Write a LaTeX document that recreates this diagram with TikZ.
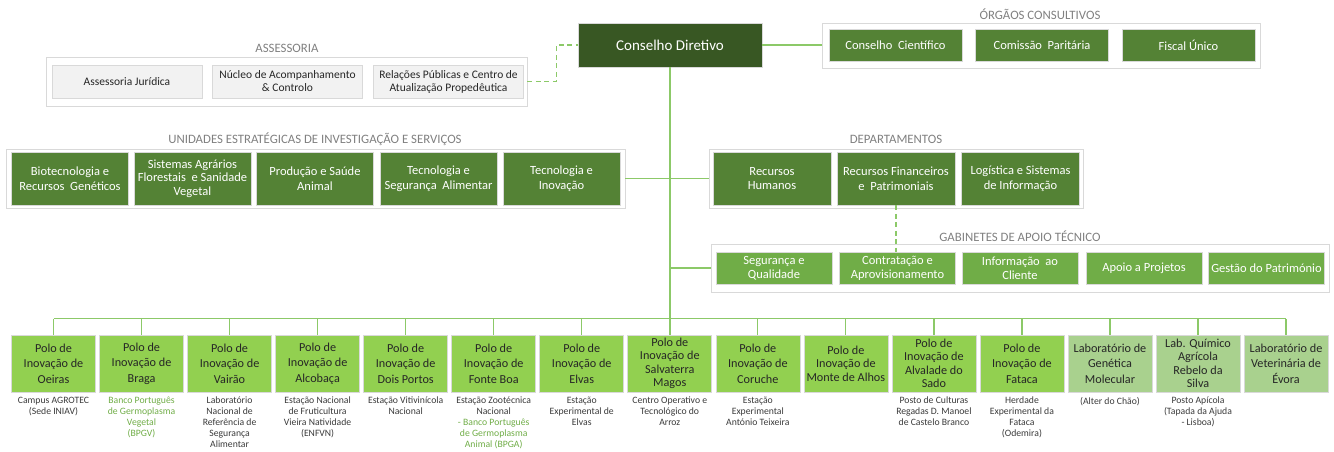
\documentclass[tikz,border=0pt]{standalone}
\usepackage{fontspec}
\setmainfont{Carlito}
\usepackage{tikz}
\definecolor{darkgreen}{HTML}{385723}
\definecolor{midgreen}{HTML}{548235}
\definecolor{gabgreen}{HTML}{70AD47}
\definecolor{pologreen}{HTML}{92D050}
\definecolor{labgreen}{HTML}{A9D18E}
\definecolor{linegreen}{HTML}{8CC968}
\definecolor{framegray}{HTML}{D9D9D9}
\definecolor{boxgray}{HTML}{F2F2F2}
\definecolor{labelgray}{HTML}{808080}
\definecolor{textdark}{HTML}{262626}
\definecolor{textgray}{HTML}{3A3A3A}
\definecolor{descgreen}{HTML}{70AD47}

\begin{document}
\begin{tikzpicture}[x=1pt,y=-1pt,line cap=butt,
  frame/.style={draw=framegray,fill=white,line width=0.8pt,inner sep=0pt},
  grplabel/.style={text=labelgray,font=\fontsize{12.8}{14}\selectfont,inner sep=0pt},
  greybox/.style={draw=framegray,fill=boxgray,text=textdark,font=\fontsize{11.5}{13}\selectfont,align=center,minimum width=150pt,minimum height=33pt,inner sep=0pt},
  topbox/.style={draw=framegray,line width=0.6pt,fill=midgreen,text=white,font=\fontsize{12.5}{14}\selectfont,align=center,minimum width=133pt,minimum height=32pt,inner sep=0pt},
  unitbox/.style={topbox,minimum width=117pt,minimum height=53pt,font=\fontsize{12.5}{14.5}\selectfont},
  gabbox/.style={topbox,fill=gabgreen,minimum width=116pt},
  polo/.style={draw=framegray,line width=0.6pt,text=textdark,font=\fontsize{12.2}{15.5}\selectfont,align=center,minimum width=84pt,minimum height=57pt,inner sep=0pt},
  plain/.style={},
  tight/.style={font=\fontsize{12.2}{13.4}\selectfont},
  desc/.style={anchor=north,align=center,font=\fontsize{9.7}{11}\selectfont,inner sep=0pt},
  conn/.style={draw=linegreen,line width=1.2pt},
  dashconn/.style={conn,dash pattern=on 5pt off 3.5pt}]
\useasboundingbox (0,0) rectangle (1334,451);

\node[frame,minimum width=481pt,minimum height=49pt] (ass) at (286.5,81.5) {};
\node[grplabel] at (287,48) {ASSESSORIA};
\node[greybox] (aj) at (127,81.5) {Assessoria Jurídica};
\node[greybox] (nac) at (287.5,81.5) {Núcleo de Acompanhamento\\\& Controlo};
\node[greybox] (rp) at (448.5,81.5) {Relações Públicas e Centro de\\Atualização Propedêutica};

\node[topbox,fill=darkgreen,minimum width=184pt,minimum height=44pt,font=\fontsize{15}{17}\selectfont] (cd) at (670,45) {Conselho Diretivo};

\node[frame,minimum width=438pt,minimum height=45pt] (org) at (1041,45.5) {};
\node[grplabel] at (1040,14) {ÓRGÃOS CONSULTIVOS};
\node[topbox] (cc) at (895.5,45) {Conselho\ \ Científico};
\node[topbox] (cp) at (1042,45) {Comissão\ \ Paritária};
\node[topbox] (fu) at (1188.5,45) {Fiscal Único};

\node[frame,minimum width=619pt,minimum height=59pt] (usis) at (315.5,178.5) {};
\node[grplabel] at (315,139) {UNIDADES ESTRATÉGICAS DE INVESTIGAÇÃO E SERVIÇOS};
\node[unitbox] (brg) at (70,178.5) {Biotecnologia e\\Recursos\ \ Genéticos};
\node[unitbox,font=\fontsize{12.5}{13.5}\selectfont] (safsv) at (192.5,178.5) {Sistemas Agrários\\Florestais\ \ e Sanidade\\Vegetal};
\node[unitbox] (psa) at (315,178.5) {Produção e Saúde\\Animal};
\node[unitbox] (tsa) at (438.5,178.5) {Tecnologia e\\Segurança\ \ Alimentar};
\node[unitbox] (ti) at (561.5,178.5) {Tecnologia e\\Inovação};

\node[frame,minimum width=374pt,minimum height=59pt] (dep) at (896,178.5) {};
\node[grplabel] at (896,139) {DEPARTAMENTOS};
\node[unitbox,minimum width=118pt] (rh) at (772,178.5) {Recursos\\Humanos};
\node[unitbox,minimum width=118pt] (rfp) at (896,178.5) {Recursos Financeiros\\e\ \ Patrimoniais};
\node[unitbox,minimum width=118pt] (lsi) at (1020.5,178.5) {Logística e Sistemas\\de Informação};

\node[frame,minimum width=618pt,minimum height=48pt] (gab) at (1020,268) {};
\node[grplabel] at (1020,236) {GABINETES DE APOIO TÉCNICO};
\node[gabbox] (sq) at (774,268) {Segurança e\\Qualidade};
\node[gabbox] (ca) at (897.5,268) {Contratação e\\Aprovisionamento};
\node[gabbox] (ic) at (1020,268) {Informação\ \ ao\\Cliente};
\node[gabbox] (ap) at (1144,268) {Apoio a Projetos};
\node[gabbox] (gp) at (1266.5,268) {Gestão do Património};

\foreach \i/\fc/\lay/\txt in {1/pologreen/plain/{Polo de\\Inovação de\\Oeiras},
    2/pologreen/plain/{Polo de\\Inovação de\\Braga},
    3/pologreen/plain/{Polo de\\Inovação de\\Vairão},
    4/pologreen/plain/{Polo de\\Inovação de\\Alcobaça},
    5/pologreen/plain/{Polo de\\Inovação de\\Dois Portos},
    6/pologreen/plain/{Polo de\\Inovação de\\Fonte Boa},
    7/pologreen/plain/{Polo de\\Inovação de\\Elvas},
    8/pologreen/tight/{Polo de\\Inovação de\\Salvaterra\\Magos},
    9/pologreen/plain/{Polo de\\Inovação de\\Coruche},
    10/pologreen/tight/{Polo de\\Inovação de\\Monte de Alhos},
    11/pologreen/tight/{Polo de\\Inovação de\\Alvalade do\\Sado},
    12/pologreen/plain/{Polo de\\Inovação de\\Fataca},
    13/labgreen/plain/{Laboratório de\\Genética\\Molecular},
    14/labgreen/tight/{Lab. Químico\\Agrícola\\Rebelo da\\Silva},
    15/labgreen/plain/{Laboratório de\\Veterinária de\\Évora}}
  \node[polo,\lay,fill=\fc] (p\i) at ({53.5+88.04*(\i-1)},363.5) {\txt};

\foreach \i/\tc/\txt in {1/textgray/{Campus AGROTEC\\(Sede INIAV)},
    2/descgreen/{Banco Português\\de Germoplasma\\Vegetal\\(BPGV)},
    3/textgray/{Laboratório\\Nacional de\\Referência de\\Segurança\\Alimentar},
    4/textgray/{Estação Nacional\\de Fruticultura\\Vieira Natividade\\(ENFVN)},
    5/textgray/{Estação Vitivinícola\\Nacional},
    6/textgray/{Estação Zootécnica\\Nacional\\\textcolor{descgreen}{- Banco Português}\\\textcolor{descgreen}{de Germoplasma}\\\textcolor{descgreen}{Animal (BPGA)}},
    7/textgray/{Estação\\Experimental de\\Elvas},
    8/textgray/{Centro Operativo e\\Tecnológico do\\Arroz},
    9/textgray/{Estação\\Experimental\\António Teixeira},
    11/textgray/{Posto de Culturas\\Regadas D. Manoel\\de Castelo Branco},
    12/textgray/{Herdade\\Experimental da\\Fataca\\(Odemira)},
    13/textgray/{(Alter do Chão)},
    14/textgray/{Posto Apícola\\(Tapada da Ajuda\\- Lisboa)}}
  \node[desc,text=\tc] (d\i) at ([yshift=-4.5pt]p\i.south) {\txt};

\draw[dashconn] (ass.east) -- ++(29,0) |- (cd.west);
\draw[conn] (cd.east) -- (cd.east -| org.west);
\draw[conn] (cd.south) -- (cd.south |- p8.north);
\draw[conn] (usis.east) -- (dep.west);
\draw[conn] (cd.south |- gab.west) -- (gab.west);
\draw[dashconn] (rfp.south) -- (rfp.south |- ca.north);
\coordinate (bus) at (0,318.5);
\draw[conn] (p1.north |- bus) -- (p15.north |- bus);
\foreach \i in {1,...,15}
  \draw[conn] (p\i.north) -- (p\i.north |- bus);
\end{tikzpicture}
\end{document}
